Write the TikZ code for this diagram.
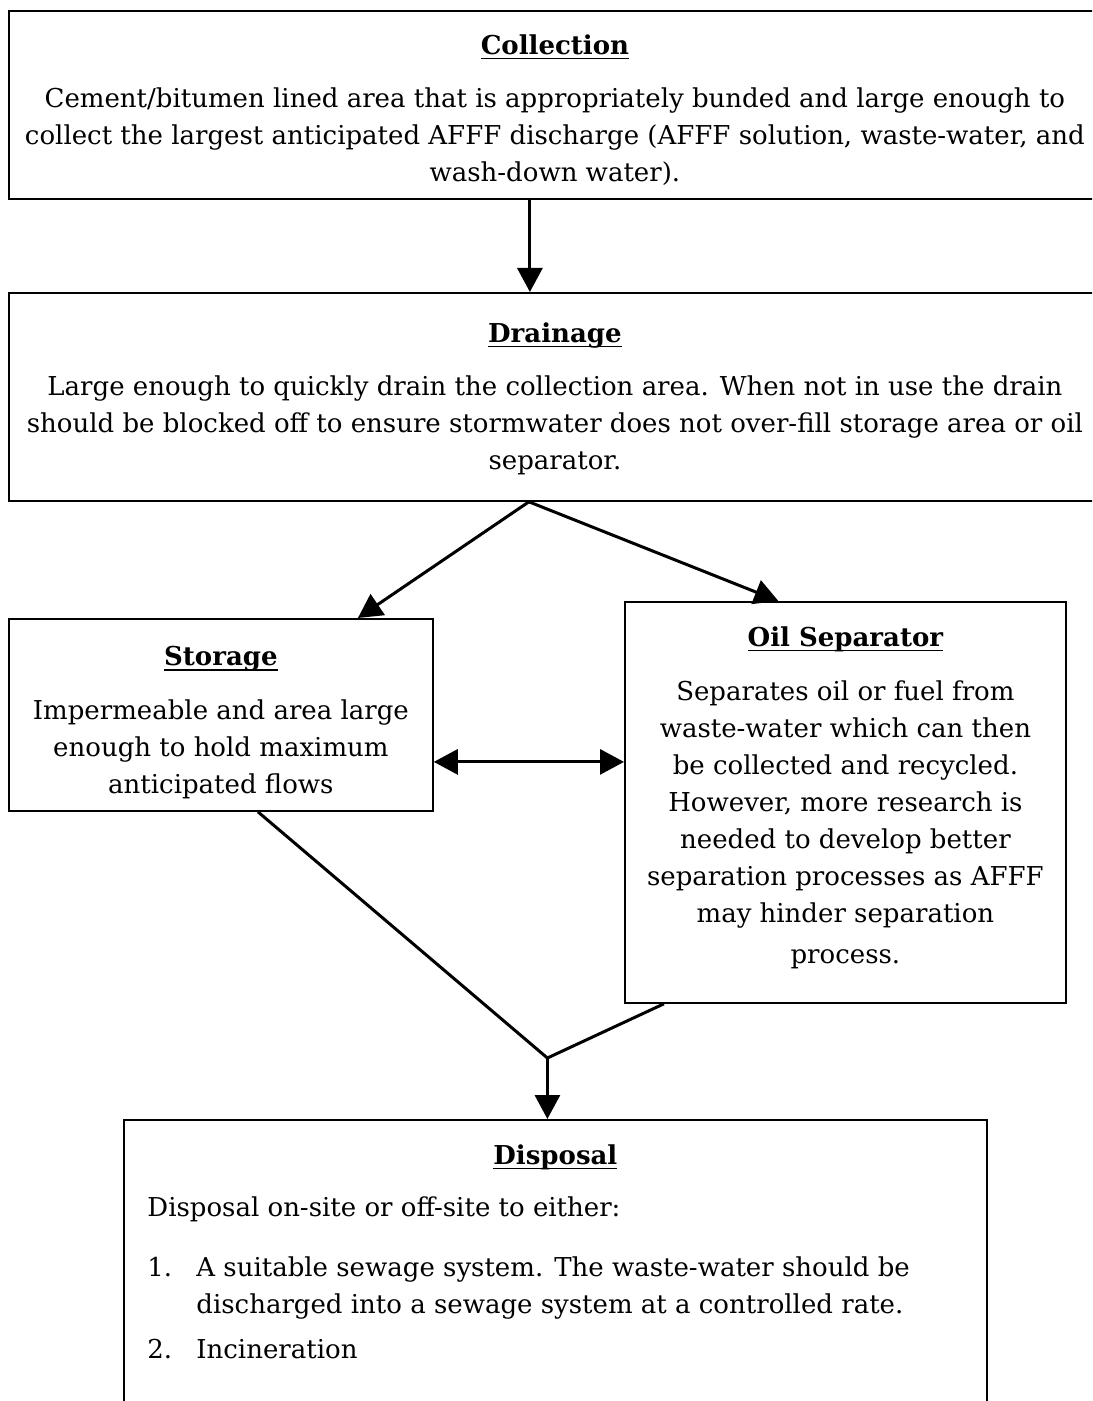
\documentclass[tikz,border=0pt]{standalone}
\usepackage{fontspec}
\setmainfont{DejaVu Serif}
\usetikzlibrary{arrows.meta,positioning}
\newcommand{\hd}[1]{\setbox0\hbox{\bfseries #1}\rlap{\raisebox{-2.6pt}{\rule{\wd0}{0.9pt}}}\box0}

\begin{document}
\begin{tikzpicture}[
  x=0.5pt, y=-0.5pt,
  font=\fontsize{13pt}{18.5pt}\selectfont,
  box/.style={draw, line width=0.9pt, inner sep=0pt, anchor=north west},
  txt/.style={align=center, inner sep=0pt, anchor=north},
  arrow/.style={-{Triangle[length=12pt,width=12.5pt]}, line width=1.5pt},
  biarrow/.style={{Triangle[length=12pt,width=12.5pt]}-{Triangle[length=12pt,width=12.5pt]}, line width=1.5pt},
  link/.style={line width=1.5pt}
]
\useasboundingbox (0,0) rectangle (1092,1401);
\clip (0,0) rectangle (1092,1401);

\node[box, minimum width=546pt, minimum height=94pt] (collect) at (8,10) {};
\node[box, minimum width=546pt, minimum height=104pt] (drain) at (8,292) {};
\node[box, minimum width=212pt, minimum height=96pt] (store) at (8,618) {};
\node[box, minimum width=220.5pt, minimum height=200.5pt] (oil) at (624,601) {};
\node[box, minimum width=431.5pt, minimum height=160pt] (dispose) at (123,1119) {};

\node[txt] (collect-t) at ([yshift=-12pt]collect.north)
  {\hd{Collection}\\[8pt]
   Cement/bitumen lined area that is appropriately bunded and large enough to\\
   collect the largest anticipated AFFF discharge (AFFF solution, waste-water, and\\
   wash-down water).};
\node[txt] (drain-t) at ([yshift=-15pt]drain.north)
  {\hd{Drainage}\\[8pt]
   Large enough to quickly drain the collection area. When not in use the drain\\
   should be blocked off to ensure stormwater does not over-fill storage area or oil\\
   separator.};
\node[txt] (store-t) at ([yshift=-14pt]store.north)
  {\hd{Storage}\\[8.5pt]
   Impermeable and area large\\
   enough to hold maximum\\
   anticipated flows};
\node[txt] (oil-t) at ([yshift=-12.5pt]oil.north)
  {\hd{Oil Separator}\\[8.5pt]
   Separates oil or fuel from\\
   waste-water which can then\\
   be collected and recycled.\\
   However, more research is\\
   needed to develop better\\
   separation processes as AFFF\\
   may hinder separation\\[2pt]
   process.};
\node[txt] (dispose-h) at ([yshift=-12.5pt]dispose.north) {\hd{Disposal}};
\node[inner sep=0pt, align=left, anchor=north west] (dispose-t) at (147,1196)
  {Disposal on-site or off-site to either:\\[11.5pt]
   \makebox[24.5pt][l]{1.}A suitable sewage system. The waste-water should be\\
   \hspace*{24.5pt}discharged into a sewage system at a controlled rate.\\[4pt]
   \makebox[24.5pt][l]{2.}Incineration};

\draw[arrow] ([xshift=-12.5pt]collect.south) -- ([xshift=-12.5pt]drain.north);
\draw[arrow] ([xshift=-13pt]drain.south) -- ([xshift=68.5pt]store.north);
\draw[arrow] ([xshift=-13pt]drain.south) -- ([xshift=-33.5pt]oil.north);
\draw[biarrow] ([yshift=-23.5pt]store.east) -- ([yshift=-23.5pt]store.east -| oil.west);

\coordinate (join) at ([shift={(-4pt,30.5pt)}]dispose.north);
\draw[link] ([xshift=18.5pt]store.south) -- (join) -- ([xshift=-90.75pt]oil.south);
\draw[arrow] (join) -- (join |- dispose.north);
\end{tikzpicture}
\end{document}
